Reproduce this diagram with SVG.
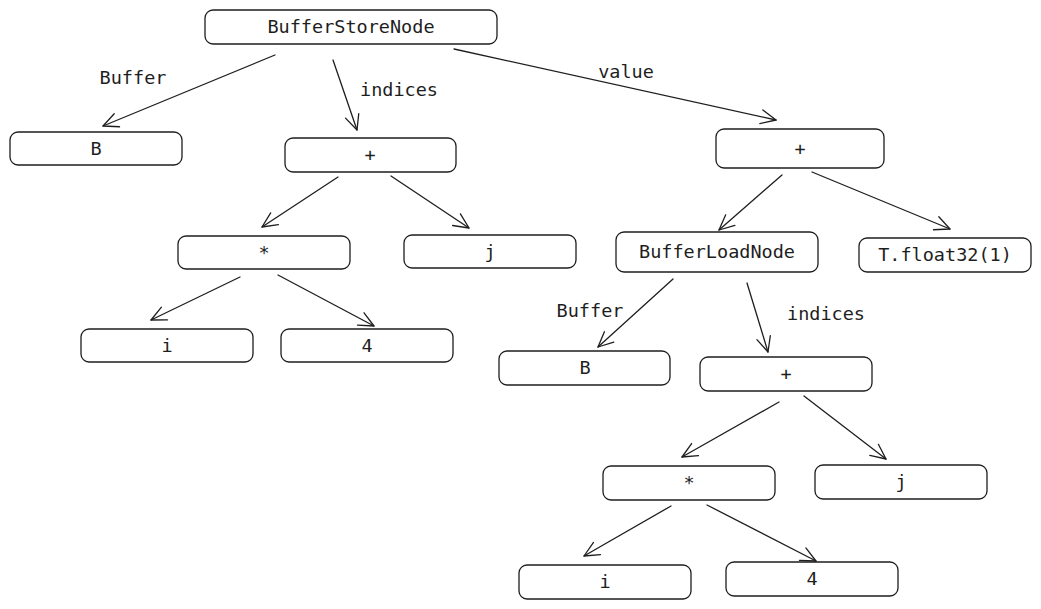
<svg xmlns="http://www.w3.org/2000/svg" width="1041" height="609" viewBox="0 0 1041 609">
  <defs>
    <marker id="arrow" markerUnits="userSpaceOnUse" markerWidth="30" markerHeight="30" viewBox="-20 -15 30 30" refX="0" refY="0" orient="auto">
      <path d="M-15,-7 L0,0 L-15,7" fill="none" stroke="#1e1e1e" stroke-width="1.3" stroke-linecap="round" stroke-linejoin="round"/>
    </marker>
    <style>
      .box { fill: #ffffff; stroke: #1e1e1e; stroke-width: 1.3; }
      .lbl { font-family: "DejaVu Sans Mono", "Liberation Mono", monospace; font-size: 18.5px; fill: #1e1e1e; text-anchor: middle; }
      .edge { fill: none; stroke: #1e1e1e; stroke-width: 1.3; stroke-linecap: round; marker-end: url(#arrow); }
    </style>
  </defs>
  <rect width="1041" height="609" fill="#ffffff"/>

  <!-- connectors -->
  <g id="connectors">
    <line class="edge" x1="275" y1="55" x2="103" y2="126"/>
    <line class="edge" x1="333" y1="60" x2="357" y2="130"/>
    <line class="edge" x1="454" y1="49" x2="776" y2="120"/>
    <line class="edge" x1="338" y1="177" x2="262" y2="227"/>
    <line class="edge" x1="391" y1="176" x2="469" y2="228"/>
    <line class="edge" x1="240" y1="277" x2="151" y2="320"/>
    <line class="edge" x1="278" y1="275" x2="374" y2="326"/>
    <line class="edge" x1="782" y1="175" x2="719" y2="230"/>
    <line class="edge" x1="812" y1="172" x2="950" y2="229"/>
    <line class="edge" x1="673" y1="279" x2="598" y2="347"/>
    <line class="edge" x1="747" y1="283" x2="768" y2="352"/>
    <line class="edge" x1="779" y1="402" x2="682" y2="457"/>
    <line class="edge" x1="804" y1="396" x2="886" y2="459"/>
    <line class="edge" x1="671" y1="506" x2="584" y2="556"/>
    <line class="edge" x1="707" y1="505" x2="816" y2="561"/>
    <text class="lbl" x="133" y="84">Buffer</text>
    <text class="lbl" x="399" y="96">indices</text>
    <text class="lbl" x="626" y="78">value</text>
    <text class="lbl" x="590" y="317">Buffer</text>
    <text class="lbl" x="826" y="320">indices</text>
  </g>

  <!-- nodes -->
  <g id="store">
    <rect class="box" x="205" y="10" width="292" height="34" rx="8"/>
    <text class="lbl" x="351" y="33">BufferStoreNode</text>
  </g>
  <g id="bufB1">
    <rect class="box" x="10" y="132" width="172" height="33" rx="8"/>
    <text class="lbl" x="96" y="155">B</text>
  </g>
  <g id="add1">
    <rect class="box" x="285" y="138" width="171" height="34" rx="8"/>
    <text class="lbl" x="370" y="161">+</text>
  </g>
  <g id="mul1">
    <rect class="box" x="178" y="236" width="172" height="33" rx="8"/>
    <text class="lbl" x="264" y="259">*</text>
  </g>
  <g id="j1">
    <rect class="box" x="404" y="235" width="172" height="33" rx="8"/>
    <text class="lbl" x="490" y="258">j</text>
  </g>
  <g id="i1">
    <rect class="box" x="81" y="329" width="172" height="33" rx="8"/>
    <text class="lbl" x="167" y="352">i</text>
  </g>
  <g id="four1">
    <rect class="box" x="281" y="329" width="172" height="33" rx="8"/>
    <text class="lbl" x="367" y="352">4</text>
  </g>
  <g id="add2">
    <rect class="box" x="716" y="129" width="168" height="39" rx="8"/>
    <text class="lbl" x="800" y="155">+</text>
  </g>
  <g id="load">
    <rect class="box" x="616" y="232" width="202" height="40" rx="8"/>
    <text class="lbl" x="717" y="258">BufferLoadNode</text>
  </g>
  <g id="const">
    <rect class="box" x="859" y="238" width="172" height="34" rx="8"/>
    <text class="lbl" x="945" y="261">T.float32(1)</text>
  </g>
  <g id="bufB2">
    <rect class="box" x="499" y="351" width="171" height="34" rx="8"/>
    <text class="lbl" x="585" y="374">B</text>
  </g>
  <g id="add3">
    <rect class="box" x="700" y="357" width="172" height="34" rx="8"/>
    <text class="lbl" x="786" y="380">+</text>
  </g>
  <g id="mul2">
    <rect class="box" x="603" y="466" width="172" height="34" rx="8"/>
    <text class="lbl" x="689" y="489">*</text>
  </g>
  <g id="j2">
    <rect class="box" x="815" y="465" width="172" height="34" rx="8"/>
    <text class="lbl" x="901" y="488">j</text>
  </g>
  <g id="i2">
    <rect class="box" x="519" y="565" width="172" height="34" rx="8"/>
    <text class="lbl" x="605" y="588">i</text>
  </g>
  <g id="four2">
    <rect class="box" x="726" y="562" width="172" height="34" rx="8"/>
    <text class="lbl" x="812" y="585">4</text>
  </g>
</svg>
